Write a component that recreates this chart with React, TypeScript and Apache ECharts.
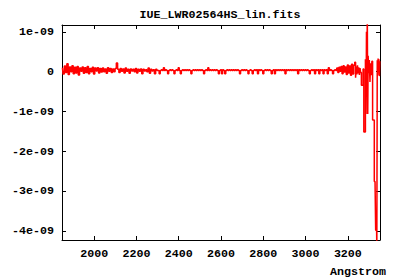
import React, { useEffect, useRef } from "react";
import * as echarts from "echarts";

const TITLE = "IUE_LWR02564HS_lin.fits";
const X_NAME = "Angstrom";

// flux values are stored in units of 1e-11
const FLUX_UNIT = 1e-11;

// axis ranges (Angstrom, flux)
const X_MIN = 1848;
const X_MAX = 3352;
const Y_MIN = -4.215e-9;
const Y_MAX = 1.17e-9;

// blue end: linear wavelength grid (start, step) as in the FITS header
const BLUE_START = 1850;
const BLUE_STEP = 6;
const blueFlux = [
  10, -6, 14, -2, 20, -7, 12, 0, 15, -5,
  11, -3, 13, -8, 9, 1, 12, -4, 10, -2,
  13, -5, 8, 0, 11, -6, 9, 2, 10, -3,
  8, -1, 9, 0, 7, -4, 10, 1, 8, -2,
  7, 0, 8, 22, 6, -2, 8, 1, 7, -3,
  9, 1, 6, -4, 7, 2, 6, 0, 8, -3,
  6, 1, 7, -5, 6, 2, 5, 0, 9, -4,
  6, 2, 5, -5, 6, 3,
];

// middle: quiet part of the spectrum
const MID_START = 2305;
const MID_STEP = 5;
const midFlux = [
  3, -5, 3, 5, 3, 10, 3, 5, 3, -5,
  3, 5, 3, 5, 3, -5, 3, 5, 3, 10,
  3, -5, 3, 5, 3, 5, 3, 5, 3, 5,
  3, -5, 3, 5, 3, 5, 3, 5, 3, 5,
  3, 5, 3, -5, 3, 5, 3, 10, 3, 5,
  3, 5, 3, 5, 3, 5, 3, -5, 3, 5,
  -5, 5, 3, -5, 3, 5, 3, 5, 3, 5,
  3, 5, 3, 5, 3, 5, 3, -5, 3, 5,
  3, 5, 3, 5, 3, -5, 3, 5, 3, -5,
  3, 5, 3, 5, -5, 5, 3, 5, 3, -5,
  3, 5, 3, 5, 3, 5, 3, -5, 3, 5,
  -5, 5, 3, 5, 3, 5, 3, 5, 3, 5,
  -5, 5, 3, 5, 3, 5, 3, 5, 3, 5,
  3, 5, -5, 5, 3, 5, 3, 5, 3, 5,
  3, 5, 3, -5, 3, 5, 3, 5, -5, 5,
  3, 5, -5, 5, 3, 5, -5, 5, 3, 5,
  -5, 10, 3, 5, 3, -5, 3, 5, 3,
];

// red noise onset
const RED_START = 3150;
const RED_STEP = 5;
const redFlux = [9, -2, 11, 1, 13, -5, 15, -1, 12, -7, 17, -3, 14, -9, 19, -6, 16, 24];

// red end: [Angstrom, flux]
const redEnd: [number, number][] = [
  [3238, -15], [3241, 13], [3244, -7], [3247, 16], [3250, -4], [3253, 11],
  [3256, -8], [3259, 9], [3262, -2], [3266, -34], [3270, -34], [3274, 7],
  [3277, -151], [3281, -151], [3285, 31], [3287, -106], [3289, 100], [3291, 21],
  [3293, 140], [3295, -106], [3297, 40], [3300, -4], [3303, 29], [3306, -26],
  [3309, 21], [3312, -9], [3315, 26], [3319, -121], [3323, -121], [3327, -275],
  [3330, -275], [3333, -397], [3336, -397], [3338, -450], [3340, 29], [3342, -9],
  [3344, 33], [3346, 6], [3348, 31], [3350, -11], [3352, 26],
];

export default function App() {
  const ref = useRef<HTMLDivElement>(null);

  useEffect(() => {
    if (!ref.current) return;
    const chart = echarts.init(ref.current, null, { renderer: "svg" });

    const points: [number, number][] = [];
    blueFlux.forEach((v, i) => points.push([BLUE_START + i * BLUE_STEP, v * FLUX_UNIT]));
    midFlux.forEach((v, i) => points.push([MID_START + i * MID_STEP, v * FLUX_UNIT]));
    redFlux.forEach((v, i) => points.push([RED_START + i * RED_STEP, v * FLUX_UNIT]));
    redEnd.forEach(([x, v]) => points.push([x, v * FLUX_UNIT]));

    const font = {
      fontFamily: "'Liberation Mono', 'DejaVu Sans Mono', monospace",
      fontWeight: "bold" as const,
      fontSize: 11.67,
      color: "#000",
    };

    const xFmt = (v: number) => (Math.abs(v % 200) < 1e-6 ? String(Math.round(v)) : "");
    const yFmt = (v: number) => {
      const n = v / 1e-9;
      const r = Math.round(n);
      if (Math.abs(n - r) > 1e-4) return "";
      return r === 0 ? "0" : `${r}e-09`;
    };

    const axisLine = { show: true, onZero: false, lineStyle: { color: "#000", width: 1 } };
    const axisTick = { show: true, inside: true, length: 4, lineStyle: { color: "#000", width: 1 } };

    chart.setOption({
      animation: false,
      backgroundColor: "#fff",
      grid: { left: 62, right: 20, top: 25, bottom: 40, containLabel: false },
      xAxis: [
        {
          type: "value", min: X_MIN, max: X_MAX, splitNumber: 7, position: "bottom",
          axisLine, axisTick, splitLine: { show: false },
          axisLabel: { ...font, margin: 8, showMinLabel: false, showMaxLabel: false, formatter: xFmt },
        },
        {
          type: "value", min: X_MIN, max: X_MAX, splitNumber: 7, position: "top",
          axisLine, axisTick, splitLine: { show: false }, axisLabel: { show: false },
        },
      ],
      yAxis: [
        {
          type: "value", min: Y_MIN, max: Y_MAX, splitNumber: 5, position: "left",
          axisLine, axisTick, splitLine: { show: false },
          axisLabel: { ...font, margin: 8, showMinLabel: false, showMaxLabel: false, formatter: yFmt },
        },
        {
          type: "value", min: Y_MIN, max: Y_MAX, splitNumber: 5, position: "right",
          axisLine, axisTick, splitLine: { show: false }, axisLabel: { show: false },
        },
      ],
      graphic: [
        {
          type: "text", x: 220, y: 15,
          style: { text: TITLE, ...font, fill: "#000", textAlign: "center", textVerticalAlign: "middle" },
        },
        {
          type: "text", x: 386, y: 271.5,
          style: { text: X_NAME, ...font, fill: "#000", textAlign: "right", textVerticalAlign: "middle" },
        },
      ],
      series: [
        {
          type: "line",
          xAxisIndex: 0,
          yAxisIndex: 0,
          data: points,
          step: "middle",
          showSymbol: false,
          symbol: "none",
          clip: true,
          lineStyle: { color: "#ff0000", width: 1.5 },
          itemStyle: { color: "#ff0000" },
        },
      ],
    });

    return () => chart.dispose();
  }, []);

  return (
    <div
      ref={ref}
      style={{ position: "fixed", left: 0, top: 0, width: 400, height: 280, background: "#fff" }}
    />
  );
}
